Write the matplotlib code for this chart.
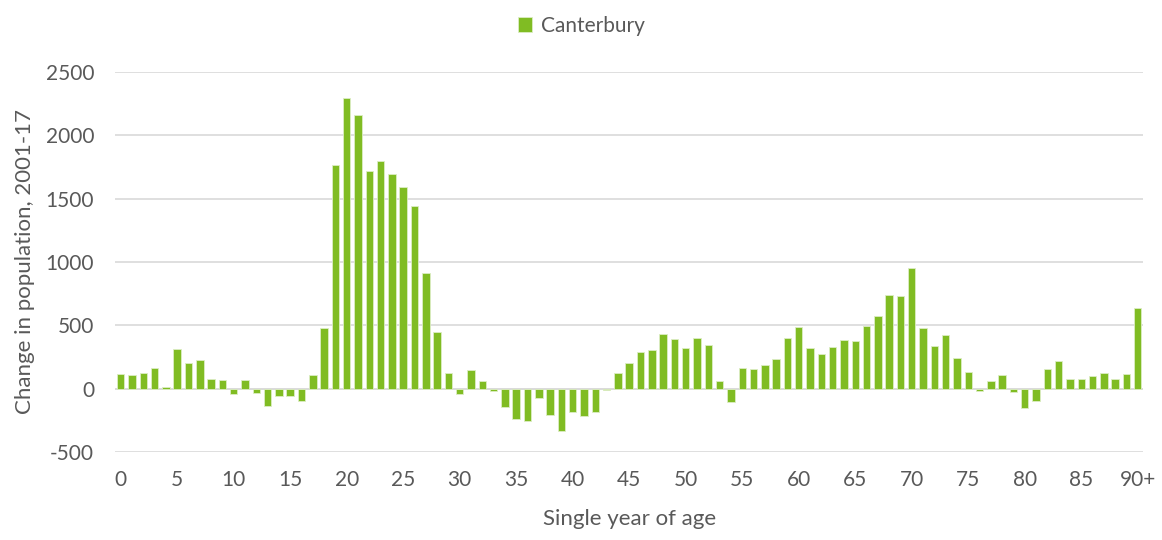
import numpy as np
import matplotlib.pyplot as plt

plt.rcParams['font.family'] = ['Lato', 'DejaVu Sans']
plt.rcParams['axes.unicode_minus'] = False

# Change in population 2001-17 by single year of age (0 .. 90+)
ages = list(range(91))
change = [
    118, 110, 126, 165, 13, 313, 205, 226, 79, 71,
    -39, 71, -35, -139, -58, -58, -100, 105, 481, 1763,
    2296, 2162, 1718, 1797, 1692, 1592, 1440, 914, 449, 126,
    -45, 150, 63, -18, -144, -236, -252, -71, -208, -331,
    -187, -218, -181, -10, 123, 205, 289, 302, 428, 394,
    318, 399, 347, 58, -105, 165, 155, 189, 236, 399,
    483, 320, 273, 331, 384, 373, 497, 570, 738, 730,
    951, 475, 336, 426, 239, 129, -21, 58, 105, -29,
    -152, -95, 152, 215, 79, 79, 100, 121, 79, 116,
    638,
]
tick_pos = list(range(0, 91, 5))
tick_labels = [str(a) for a in range(0, 90, 5)] + ['90+']

green = '#80BC23'
text_col = '#595959'

fig = plt.figure(figsize=(11.62, 5.4), dpi=100)
ax = fig.add_axes([0.099, 0.163, 0.885, 0.704])

ax.bar(ages, change, width=0.66, color=green, edgecolor='#dcedc4',
       linewidth=0.6, label='Canterbury', zorder=3)

ax.set_xlim(-0.5, 90.5)
ax.set_ylim(-500, 2500)
ax.set_yticks(range(-500, 2501, 500))
ax.set_xticks(tick_pos)
ax.set_xticklabels(tick_labels)
ax.grid(axis='y', color='#D9D9D9', linewidth=1.2, zorder=0)
ax.axhline(0, color='#D9D9D9', linewidth=1.2, zorder=1)
for s in ax.spines.values():
    s.set_visible(False)
ax.tick_params(length=0, labelsize=15, colors=text_col)
ax.tick_params(axis='x', pad=13)
ax.tick_params(axis='y', pad=15)

ax.set_xlabel('Single year of age', fontsize=16, color=text_col, labelpad=14)
ax.set_ylabel('Change in population, 2001-17', fontsize=16, color=text_col, labelpad=8)

fig.legend(loc='upper center', bbox_to_anchor=(0.5, 1.005), frameon=False,
           fontsize=15, labelcolor=text_col, handlelength=0.7, handleheight=0.7,
           handletextpad=0.4)

fig.savefig('out.png', dpi=100)
